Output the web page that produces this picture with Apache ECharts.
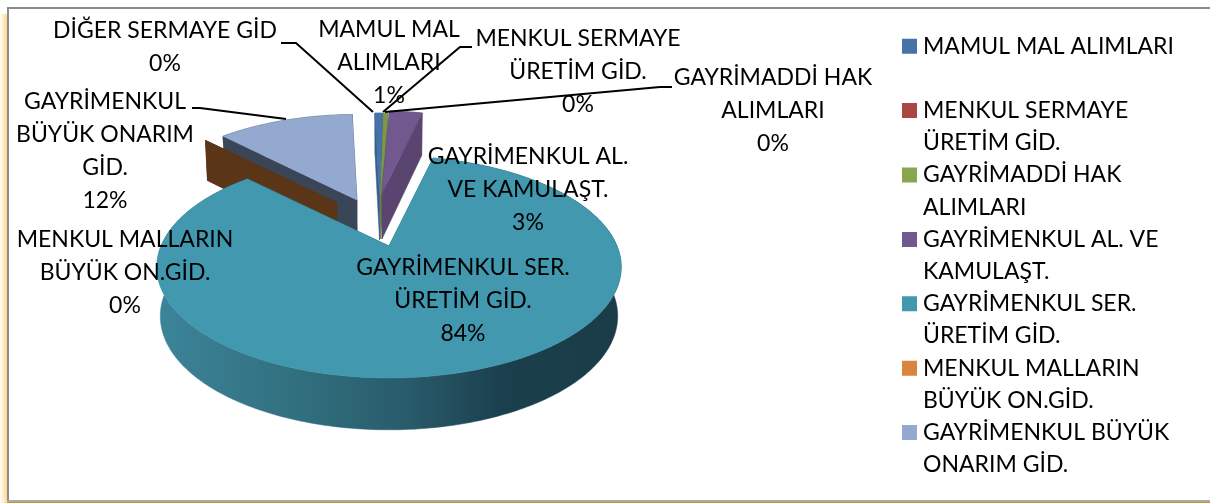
<!DOCTYPE html>
<html><head><meta charset="utf-8">
<style>html,body{margin:0;padding:0;background:#fff}#c{width:1210px;height:503px}</style>
<script src="https://cdn.jsdelivr.net/npm/echarts@6/dist/echarts.min.js"></script>
</head><body><div id="c"></div>
<script>
// ---- data ----
const categories = ['MAMUL MAL ALIMLARI','MENKUL SERMAYE ÜRETİM GİD.','GAYRİMADDİ HAK ALIMLARI','GAYRİMENKUL AL. VE KAMULAŞT.','GAYRİMENKUL SER. ÜRETİM GİD.','MENKUL MALLARIN BÜYÜK ON.GİD.','GAYRİMENKUL BÜYÜK ONARIM GİD.','DİĞER SERMAYE GİD'];
const values = [0.7, 0, 0.4, 3.0, 83.9, 0.03, 11.97, 0];
const percentLabels = ['1%','0%','0%','3%','84%','0%','12%','0%'];
const labelNames = ['MAMUL MAL\nALIMLARI','MENKUL SERMAYE\nÜRETİM GİD.','GAYRİMADDİ HAK\nALIMLARI','GAYRİMENKUL AL.\nVE KAMULAŞT.','GAYRİMENKUL SER.\nÜRETİM GİD.','MENKUL MALLARIN\nBÜYÜK ON.GİD.','GAYRİMENKUL\nBÜYÜK ONARIM\nGİD.','DİĞER SERMAYE GİD'];
const legendNames = ['MAMUL MAL ALIMLARI\n ','MENKUL SERMAYE\nÜRETİM GİD.','GAYRİMADDİ HAK\nALIMLARI','GAYRİMENKUL AL. VE\nKAMULAŞT.','GAYRİMENKUL SER.\nÜRETİM GİD.','MENKUL MALLARIN\nBÜYÜK ON.GİD.','GAYRİMENKUL BÜYÜK\nONARIM GİD.'];

// ---- styling / layout ----
const FONT = '23px Lato, Carlito, sans-serif';
const topColors  = ['#4572A7','#AA4643','#7C964A','#71588F','#4198AF','#5A3518','#93A9CF','#7F7F7F'];
const legendColors = ['#4572A7','#AA4643','#89A54E','#71588F','#4198AF','#DB843D','#93A9CF'];
const sideColors = ['#3A5E8A','#7F3432','#67803B','#5A4570','#1F4A57','#5A3518','#3A4558','#555555'];
// pie projection
const PA = 228, PB = 107, PK = 0.189, ROT = -1.5;
// per slice: apex position, scale, depth, draw order (exploded slices)
const sliceGeom = [
  {ax:379.5,ay:195,s:0.91,d:45,z:4},
  {ax:378,ay:195,s:0.91,d:45,z:4},
  {ax:380.5,ay:195,s:0.91,d:44,z:5},
  {ax:382,ay:193,s:0.91,d:46,z:6},
  {ax:389,ay:246,s:1.00,d:48.5,z:9},
  {ax:337,ay:203,s:0.93,d:42,z:3},
  {ax:357,ay:200,s:0.95,d:31,z:2},
  {ax:372,ay:195,s:0.91,d:40,z:1}
];
const labelPos = [[389,63],[578,72],[773,111],[528,190],[463,301],[125,273],[105,151],[165,47]];
const leaderLines = [
  [[281,43],[296,43],[373,112]],
  [[472,47],[460,47],[383,112]],
  [[672,87],[660,87],[385,112]],
  [[192,108],[200,108],[286,119]]
];

const total = values.reduce((a,b)=>a+b,0);
const starts = []; { let acc = 0; values.forEach(v=>{starts.push(acc); acc += v;}); }

function proj(g, deg, r, down){
  const t = (deg+ROT)*Math.PI/180, X = r*Math.sin(t), Y = r*Math.cos(t), w = 1+PK*Y;
  const x = PA*X/w*g.s, y = -PB*Y/w*g.s;
  if(!down) return [g.ax+x, g.ay+y];
  return [g.ax+x*0.985, g.ay+y+g.d*(1-0.07*Y)];
}
function slicePaths(i){
  const g = sliceGeom[i], a0 = starts[i]/total*360, a1 = (starts[i]+values[i])/total*360;
  const n = Math.max(2, Math.ceil(a1-a0)), top = [], bot = [];
  for(let k=0;k<=n;k++){ const a=a0+(a1-a0)*k/n; top.push(proj(g,a,1,false)); bot.push(proj(g,a,1,true)); }
  const A = [g.ax,g.ay], Ad = proj(g,0,0,true);
  return {
    top:[A].concat(top),
    rim:top.concat(bot.slice().reverse()),
    f0:[A,top[0],bot[0],Ad],
    f1:[A,top[n],bot[n],Ad]
  };
}
const tealGrad = new echarts.graphic.LinearGradient(157,0,620,0,[
  {offset:0,color:'#3C8499'},{offset:0.3,color:'#31707F'},{offset:0.55,color:'#285A6A'},
  {offset:0.75,color:'#1B3F4C'},{offset:1,color:'#1A3C48'}],true);

function poly(points, fill){
  return {type:'polygon',shape:{points},style:{fill,stroke:fill,lineWidth:0.5},silent:true};
}
function makeRender(i){
  return function(){
    if(!values[i]) return {type:'group',children:[]};
    const p = slicePaths(i), side = i===4 ? tealGrad : sideColors[i];
    return {type:'group',children:[
      poly(p.f0,sideColors[i]), poly(p.f1,sideColors[i]),
      poly(p.rim,side), poly(p.top,topColors[i])
    ]};
  };
}
const series = categories.map((name,i)=>({
  type:'custom', name, coordinateSystem:'none', z:sliceGeom[i].z, silent:true,
  itemStyle:{color:i<legendColors.length?legendColors[i]:topColors[i]},
  data:[values[i]], renderItem:makeRender(i)
}));

const SW = 'path://M0 8.5H15V23.5H0Z M0 0L0.01 0 M0 64L0.01 64';
const texts = categories.map((c,i)=>({
  type:'text', z:100, silent:true,
  style:{x:labelPos[i][0],y:labelPos[i][1],text:labelNames[i]+'\n'+percentLabels[i],
    font:FONT,fill:'#000',align:'center',verticalAlign:'middle',lineHeight:33}
}));
const lines = leaderLines.map(pts=>({
  type:'polyline', z:90, silent:true, shape:{points:pts}, style:{stroke:'#000',lineWidth:2,fill:null}
}));
const frame = [
  {type:'rect',z:-3,silent:true,shape:{x:0,y:14,width:7,height:489},
   style:{fill:new echarts.graphic.LinearGradient(0,0,1,0,[{offset:0,color:'#FFFFFF'},{offset:1,color:'#FFD88C'}])}},
  {type:'rect',z:-2,silent:true,shape:{x:7,y:7,width:1203,height:2},style:{fill:'#8C8C8C'}},
  {type:'rect',z:-2,silent:true,shape:{x:7,y:7,width:2,height:494},style:{fill:'#8C8C8C'}},
  {type:'rect',z:-2,silent:true,shape:{x:7,y:500,width:1203,height:2},style:{fill:'#ABABAB'}},
  {type:'rect',z:-2,silent:true,shape:{x:7,y:502,width:1203,height:1},style:{fill:'#B8972F'}}
];

const chart = echarts.init(document.getElementById('c'),null,{renderer:'canvas'});
chart.setOption({
  animation:false, backgroundColor:'#fff',
  legend:{
    orient:'vertical', left:902, top:30, padding:0, itemGap:0, itemWidth:15, itemHeight:64,
    icon:SW, selectedMode:false,
    data:categories.slice(0,7),
    formatter:n=>legendNames[categories.indexOf(n)],
    textStyle:{fontFamily:'Lato, Carlito, sans-serif',fontSize:23,color:'#000',lineHeight:32.2,padding:[0,0,0,1]}
  },
  graphic:{elements:frame.concat(lines,texts)},
  series
});
</script></body></html>
